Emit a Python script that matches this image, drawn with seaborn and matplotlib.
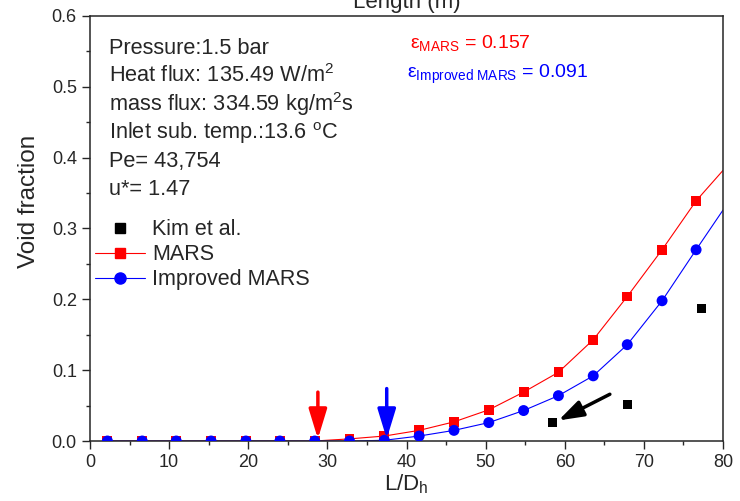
import matplotlib
matplotlib.use('Agg')
import matplotlib.pyplot as plt
import seaborn as sns
from matplotlib.lines import Line2D
from matplotlib.ticker import MultipleLocator, FormatStrFormatter

# data
###############################################################################
ld_calc = [2.2, 6.6, 10.9, 15.3, 19.7, 24.0, 28.4, 32.8, 37.2, 41.6, 46.0,
           50.4, 54.8, 59.2, 63.6, 67.9, 72.3, 76.6]
void_mars = [0.0, 0.0, 0.0, 0.0, 0.0, 0.0, 0.0, 0.003, 0.007, 0.015, 0.027,
             0.044, 0.069, 0.097, 0.143, 0.204, 0.270, 0.339]
void_improved = [0.0, 0.0, 0.0, 0.0, 0.0, 0.0, 0.0, 0.0, 0.001, 0.007, 0.015,
                 0.026, 0.043, 0.064, 0.092, 0.136, 0.198, 0.270]
# curve ends at the right border
ld_end = 80
mars_end = 0.382
improved_end = 0.326

ld_kim = [58.4, 67.9, 77.3]
void_kim = [0.026, 0.051, 0.187]

info_lines = ['Pressure:1.5 bar',
              'Heat flux: 135.49 W/m$^2$',
              'mass flux: 334.59 kg/m$^2$s',
              'Inlet sub. temp.:13.6 $^{\\mathrm{o}}$C',
              'Pe= 43,754',
              'u*= 1.47']
eps_mars = 'ε$_{\\mathrm{MARS}}$ = 0.157'
eps_improved = 'ε$_{\\mathrm{Improved\\ MARS}}$ = 0.091'

# onset arrows (x, y_start, y_tip)
arrow_mars = (28.8, 0.069, 0.003)
arrow_improved = (37.5, 0.074, 0.003)
arrow_kim = ((65.7, 0.066), (59.2, 0.029))

# plot
###############################################################################
sns.set_style('ticks')
plt.rcParams['font.family'] = ['Liberation Sans', 'DejaVu Sans']
plt.rcParams['mathtext.fontset'] = 'custom'
plt.rcParams['mathtext.rm'] = 'Liberation Sans'
plt.rcParams['mathtext.it'] = 'Liberation Sans:italic'
plt.rcParams['mathtext.bf'] = 'Liberation Sans:bold'

fig = plt.figure(figsize=(7.4, 5.01), dpi=100)
ax = fig.add_axes([90/740, 1-441/501, 633/740, 425/501])

sns.lineplot(x=ld_calc + [ld_end], y=void_mars + [mars_end], ax=ax,
             color='#ff0000', linewidth=0.8, sort=False, estimator=None)
sns.lineplot(x=ld_calc + [ld_end], y=void_improved + [improved_end], ax=ax,
             color='#0000ff', linewidth=0.8, sort=False, estimator=None)
sns.scatterplot(x=ld_calc, y=void_mars, ax=ax, marker='s', s=50,
                color='#ff0000', edgecolor='none', zorder=3)
sns.scatterplot(x=ld_calc, y=void_improved, ax=ax, marker='o', s=62,
                color='#0000ff', edgecolor='none', zorder=4)
sns.scatterplot(x=ld_kim, y=void_kim, ax=ax, marker='s', s=42,
                color='k', edgecolor='none', zorder=4)

for (xa, y0, y1), c in [(arrow_mars, '#ff0000'), (arrow_improved, '#0000ff')]:
    ax.annotate('', xy=(xa, y1), xytext=(xa, y0),
                arrowprops=dict(arrowstyle='-|>,head_length=1.8,head_width=0.55',
                                color=c, lw=2.5, shrinkA=0, shrinkB=0), zorder=5)
ax.annotate('', xy=arrow_kim[1], xytext=arrow_kim[0],
            arrowprops=dict(arrowstyle='-|>,head_length=1.5,head_width=0.5',
                            color='k', lw=2.5, shrinkA=0, shrinkB=0), zorder=5)

ax.set_xlim(0, 80)
ax.set_ylim(0, 0.6)
ax.xaxis.set_major_locator(MultipleLocator(10))
ax.xaxis.set_minor_locator(MultipleLocator(5))
ax.yaxis.set_major_locator(MultipleLocator(0.1))
ax.yaxis.set_minor_locator(MultipleLocator(0.05))
ax.yaxis.set_major_formatter(FormatStrFormatter('%.1f'))
ax.tick_params(which='major', direction='out', length=6, width=1, labelsize=13)
ax.tick_params(which='minor', direction='out', length=3, width=1)
for sp in ax.spines.values():
    sp.set_linewidth(1.1)
ax.set_xlabel('L/D$_\\mathrm{h}$', fontsize=16, labelpad=1)
ax.set_ylabel('Void fraction', fontsize=17.5)
ax.yaxis.set_label_coords(-0.079, 0.565)

for i, t in enumerate(info_lines):
    ax.text(0.030, 0.910 - i * 0.0664, t, transform=ax.transAxes,
            fontsize=15.7, va='baseline', ha='left')
ax.text(0.5055, 0.924, eps_mars, transform=ax.transAxes, color='#ff0000',
        fontsize=14, va='baseline')
ax.text(0.501, 0.854, eps_improved, transform=ax.transAxes, color='#0000ff',
        fontsize=14, va='baseline')

handles = [Line2D([], [], color='k', marker='s', linestyle='none', markersize=7),
           Line2D([], [], color='#ff0000', marker='s', linewidth=0.8, markersize=7),
           Line2D([], [], color='#0000ff', marker='o', linewidth=0.8, markersize=8)]
ax.legend(handles, ['Kim et al.', 'MARS', 'Improved MARS'], loc='upper left',
          bbox_to_anchor=(0.0085, 0.522), frameon=False, fontsize=15.5,
          handlelength=2.3, handletextpad=0.35, labelspacing=0.19,
          borderpad=0, borderaxespad=0)

fig.text((90 + 723) / 2 / 740, 1 - 8/501, 'Length (m)', fontsize=16,
         ha='center', va='baseline')

fig.savefig('out.png', dpi=100)
